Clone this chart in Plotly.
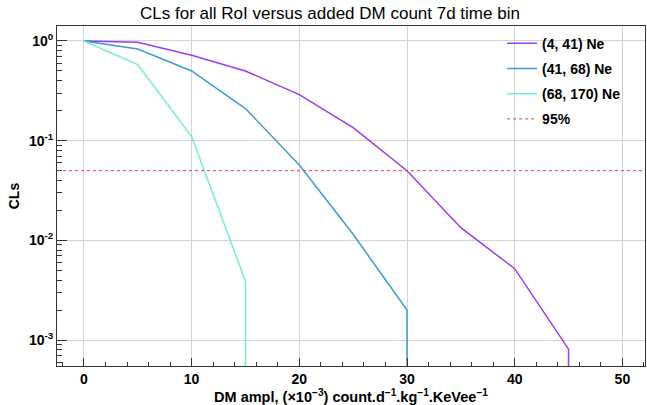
import plotly.graph_objects as go

# ---- data ----
x_4_41 = [0, 5, 10, 15, 20, 25, 30, 35, 40, 45, 45]
cls_4_41 = [1.0, 0.97, 0.72, 0.50, 0.29, 0.135, 0.050, 0.0134, 0.0052, 0.00081, 1e-9]
x_41_68 = [0, 5, 10, 15, 20, 25, 30, 30]
cls_41_68 = [1.0, 0.83, 0.50, 0.21, 0.057, 0.0115, 0.0020, 1e-9]
x_68_170 = [0, 5, 10, 15, 15]
cls_68_170 = [1.0, 0.58, 0.11, 0.0039, 1e-9]
series_names = ["(4, 41) Ne", "(41, 68) Ne", "(68, 170) Ne", "95%"]
cl_threshold = 0.05

y_tickvals = [1e-3, 1e-2, 1e-1, 1]
y_ticktext = ["10<sup>-3</sup>", "10<sup>-2</sup>", "10<sup>-1</sup>", "10<sup>0</sup>"]
x_tickvals = [0, 10, 20, 30, 40, 50]
y_minor_vals = [m * 10.0 ** e for e in (-4, -3, -2, -1, 0) for m in range(2, 10)]

colors = ["#9a3cf0", "#3e9bd8", "#72ecd8", "#e03c3c"]
FONT = "Liberation Sans, Arial, sans-serif"

fig = go.Figure()
for xs, ys, name, col, grp in [
    (x_4_41, cls_4_41, series_names[0], colors[0], "a"),
    (x_41_68, cls_41_68, series_names[1], colors[1], "b"),
    (x_68_170, cls_68_170, series_names[2], colors[2], "c"),
]:
    fig.add_trace(go.Scatter(x=xs, y=ys, mode="lines", name=name, legendgroup=grp,
                             line=dict(color=col, width=1.5)))

fig.add_hline(y=cl_threshold, line=dict(color=colors[3], width=1, dash="dot"))
fig.add_trace(go.Scatter(x=[None], y=[None], mode="lines", name=series_names[3], legendgroup="d",
                         line=dict(color=colors[3], width=1, dash="dot")))

fig.update_layout(
    width=647, height=405,
    margin=dict(l=57, r=2, t=26, b=39),
    paper_bgcolor="white", plot_bgcolor="white",
    font=dict(family=FONT, color="black"),
    title=dict(text="CLs for all RoI versus added DM count 7d time bin", x=0.51, xanchor="center",
               y=0.967, yanchor="middle", font=dict(size=17, family=FONT)),
    showlegend=True,
    legend=dict(x=0.757, y=0.995, xanchor="left", yanchor="top", bgcolor="rgba(0,0,0,0)",
                font=dict(size=14, family=FONT, weight="bold"), tracegroupgap=4),
    xaxis=dict(range=[-2.5, 52.1], tickvals=x_tickvals, ticks="inside", ticklen=8, tickcolor="#333",
               showline=True, linecolor="#333", linewidth=1, mirror=True,
               showgrid=True, gridcolor="#d4d4d4", gridwidth=1, zeroline=False,
               tickfont=dict(size=14, family=FONT, weight="bold"),
               minor=dict(dtick=2, ticks="inside", ticklen=4, tickcolor="#333", showgrid=False),
               title=dict(text="DM ampl, (×10<sup>−3</sup>) count.d<sup>−1</sup>.kg<sup>−1</sup>.KeVee<sup>−1</sup>",
                          font=dict(size=14.5, family=FONT, weight="bold"), standoff=4)),
    yaxis=dict(type="log", range=[-3.26, 0.15], tickvals=y_tickvals, ticktext=y_ticktext,
               ticks="inside", ticklen=10, tickcolor="#333",
               showline=True, linecolor="#333", linewidth=1, mirror=True,
               showgrid=True, gridcolor="#d4d4d4", gridwidth=1, zeroline=False,
               tickfont=dict(size=14, family=FONT, weight="bold"),
               minor=dict(tickvals=y_minor_vals, ticks="inside", ticklen=5, tickcolor="#333", showgrid=False),
               title=dict(text="CLs", font=dict(size=14, family=FONT, weight="bold"), standoff=6)),
)

fig.write_html("out.html")
